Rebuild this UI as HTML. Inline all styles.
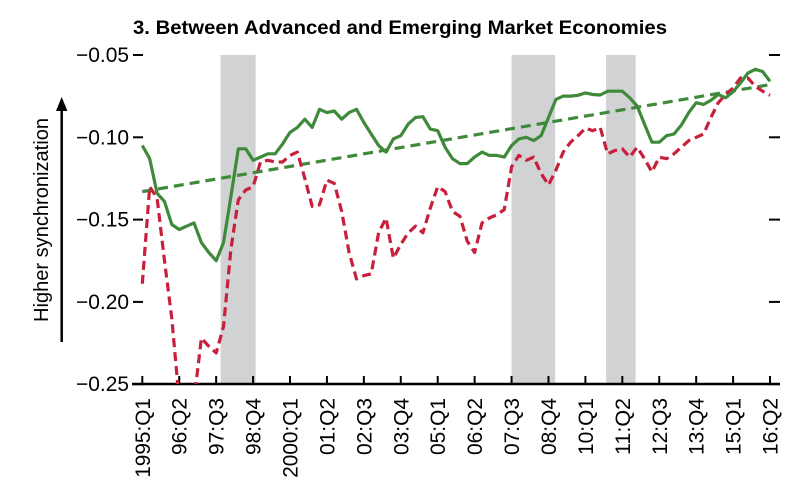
<!DOCTYPE html>
<html><head><meta charset="utf-8">
<style>
html,body{margin:0;padding:0;background:#fff;}
svg{display:block;font-family:"Liberation Sans Narrow","Liberation Sans",sans-serif;}
</style></head>
<body>
<svg id="chart" width="798" height="491" viewBox="0 0 798 491" xmlns="http://www.w3.org/2000/svg">
<text x="400" y="34" text-anchor="middle" font-size="19" font-weight="bold" textLength="534" lengthAdjust="spacingAndGlyphs">3. Between Advanced and Emerging Market Economies</text>
<text transform="translate(48,220) rotate(-90)" text-anchor="middle" font-size="20" textLength="204" lengthAdjust="spacingAndGlyphs">Higher synchronization</text>
<line x1="61.7" y1="342" x2="61.7" y2="108" stroke="#000" stroke-width="2.5"/>
<polygon points="61.7,97 56,111 67.4,111" fill="#000"/>
<g id="bands"></g>
<g id="axes"></g>
<g id="series"></g>
</svg>
<script>
const bandStarts = [10.6, 50.0, 62.8];
const bandEnds = [15.35, 55.9, 66.8];
const yTicks = [-0.05, -0.10, -0.15, -0.20, -0.25];
const yTickLabels = ["\u22120.05", "\u22120.10", "\u22120.15", "\u22120.20", "\u22120.25"];
const xTickIdx = [0,5,10,15,20,25,30,35,40,45,50,55,60,65,70,75,80,85];
const xTickLabels = ["1995:Q1","96:Q2","97:Q3","98:Q4","2000:Q1","01:Q2","02:Q3","03:Q4","05:Q1","06:Q2","07:Q3","08:Q4","10:Q1","11:Q2","12:Q3","13:Q4","15:Q1","16:Q2"];
const advEmSolid = [-0.105,-0.113,-0.134,-0.139,-0.153,-0.156,-0.154,-0.152,-0.164,-0.170,-0.175,-0.164,-0.136,-0.107,-0.107,-0.114,-0.112,-0.110,-0.110,-0.104,-0.097,-0.094,-0.089,-0.094,-0.083,-0.085,-0.084,-0.089,-0.085,-0.083,-0.091,-0.098,-0.105,-0.109,-0.101,-0.099,-0.092,-0.088,-0.0875,-0.095,-0.096,-0.106,-0.113,-0.116,-0.116,-0.112,-0.109,-0.111,-0.111,-0.112,-0.105,-0.101,-0.100,-0.102,-0.099,-0.088,-0.077,-0.075,-0.075,-0.0745,-0.073,-0.074,-0.0743,-0.072,-0.072,-0.072,-0.076,-0.081,-0.092,-0.103,-0.103,-0.099,-0.098,-0.0925,-0.085,-0.079,-0.080,-0.0775,-0.074,-0.076,-0.0723,-0.067,-0.061,-0.0587,-0.060,-0.066];
const advEmDashed = [-0.189,-0.13,-0.137,-0.175,-0.21,-0.26,-0.28,-0.26,-0.222,-0.227,-0.231,-0.215,-0.168,-0.138,-0.132,-0.13,-0.115,-0.114,-0.115,-0.115,-0.111,-0.109,-0.125,-0.142,-0.141,-0.126,-0.128,-0.145,-0.17,-0.186,-0.184,-0.183,-0.158,-0.149,-0.1735,-0.165,-0.158,-0.154,-0.158,-0.143,-0.13,-0.133,-0.145,-0.148,-0.163,-0.170,-0.152,-0.149,-0.147,-0.144,-0.118,-0.111,-0.114,-0.112,-0.122,-0.129,-0.12,-0.109,-0.103,-0.099,-0.0945,-0.096,-0.094,-0.110,-0.108,-0.107,-0.112,-0.106,-0.113,-0.121,-0.112,-0.113,-0.11,-0.106,-0.102,-0.100,-0.098,-0.088,-0.079,-0.074,-0.07,-0.064,-0.064,-0.069,-0.072,-0.0745];
const trendStart = -0.133;
const trendEnd = -0.068;

const NS = "http://www.w3.org/2000/svg";
const X0 = 142.3, DX = 7.385;
const x = i => X0 + i * DX;
const y = v => 55 + (-0.05 - v) * 82.3 / 0.05;
function mk(tag, attrs, parent, text){
  const e = document.createElementNS(NS, tag);
  for (const k in attrs) e.setAttribute(k, attrs[k]);
  if (text !== undefined) e.textContent = text;
  parent.appendChild(e);
  return e;
}
const bands = document.getElementById('bands');
const axes = document.getElementById('axes');
const series = document.getElementById('series');

const defs = mk('defs', {}, document.getElementById('chart'));
const cp = mk('clipPath', {id:'plotclip'}, defs);
mk('rect', {x:130, y:40, width:660, height:344}, cp);

bandStarts.forEach((s, k) => {
  const r = mk('rect', {x:x(s), y:55, width:x(bandEnds[k]) - x(s), height:329, fill:'#d1d2d4'}, bands);
  
  
});

yTicks.forEach((v, k) => {
  const t1 = mk('line', {x1:133, x2:143, y1:y(v), y2:y(v), stroke:'#000', 'stroke-width':2}, axes);
  
  
  const t2 = mk('line', {x1:769, x2:780, y1:y(v), y2:y(v), stroke:'#000', 'stroke-width':2}, axes);
  
  
  const lb = mk('text', {x:129, y:y(v) + 7, 'text-anchor':'end', 'font-size':21, textLength:53, lengthAdjust:'spacingAndGlyphs'}, axes, yTickLabels[k]);
  
  
});

const ax = mk('line', {x1:132, x2:780, y1:384, y2:384, stroke:'#000', 'stroke-width':2.5}, axes);



xTickIdx.forEach((i, k) => {
  const t = mk('line', {x1:x(i), x2:x(i), y1:376, y2:384, stroke:'#000', 'stroke-width':2}, axes);
  
  
  const lb = mk('text', {transform:'translate(' + (x(i) + 7.5) + ',398) rotate(-90)', 'text-anchor':'end', 'font-size':21, textLength:(xTickLabels[k].length * 11.4).toFixed(1), lengthAdjust:'spacingAndGlyphs'}, axes, xTickLabels[k]);
  
  
});

const g = mk('g', {'clip-path':'url(#plotclip)'}, series);
const pts = arr => arr.map((v, i) => x(i).toFixed(1) + ',' + y(v).toFixed(1)).join(' ');

const tr = mk('line', {x1:x(0), y1:y(trendStart), x2:x(advEmSolid.length - 1), y2:y(trendEnd), stroke:'#3f8a3a', 'stroke-width':3.2, 'stroke-dasharray':'10 6'}, g);



const red = mk('polyline', {points:pts(advEmDashed), fill:'none', stroke:'#c8203c', 'stroke-width':3.2, 'stroke-dasharray':'9 5', 'stroke-linejoin':'round'}, g);



const grn = mk('polyline', {points:pts(advEmSolid), fill:'none', stroke:'#3f8a3a', 'stroke-width':3.2, 'stroke-linejoin':'round'}, g);


</script>
</body></html>
